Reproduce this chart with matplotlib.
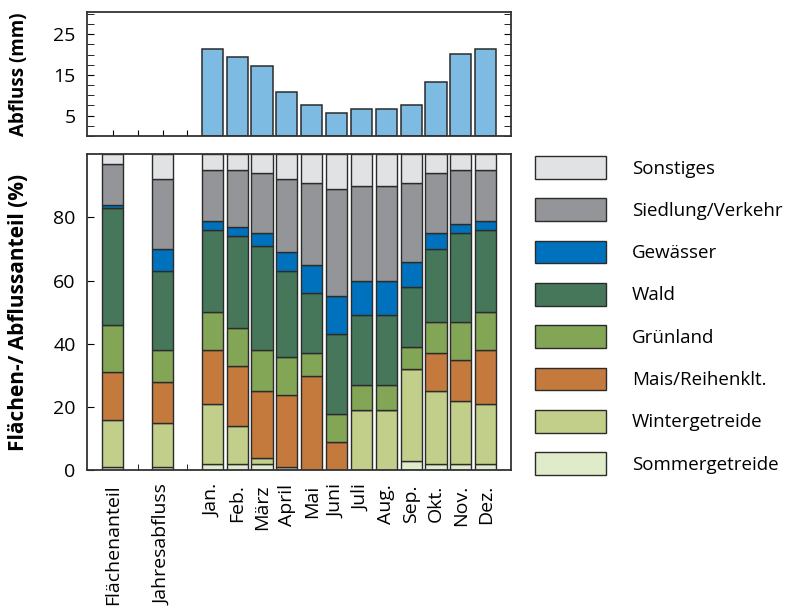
import numpy as np
import matplotlib.pyplot as plt
from matplotlib.ticker import MultipleLocator

plt.rcParams['font.family'] = ['Open Sans', 'DejaVu Sans']

# Categories along the x axis
labels = ['Flächenanteil', 'Jahresabfluss', 'Jan.', 'Feb.', 'März', 'April', 'Mai',
          'Juni', 'Juli', 'Aug.', 'Sep.', 'Okt.', 'Nov.', 'Dez.']
positions = [0, 2, 4, 5, 6, 7, 8, 9, 10, 11, 12, 13, 14, 15]

# Monthly runoff (mm), no values for the first two columns
runoff = [np.nan, np.nan, 21.3, 19.4, 17.3, 10.9, 7.5, 5.6, 6.5, 6.5, 7.7, 13.3, 20.1, 21.3]

# Shares (%) of the land-use classes, bottom to top
sommergetreide = [1, 1, 2, 2, 2, 1, 0, 0, 0, 0, 3, 2, 2, 2]
wintergetreide = [15, 14, 19, 12, 2, 0, 0, 0, 19, 19, 29, 23, 20, 19]
mais = [15, 13, 17, 19, 21, 23, 30, 9, 0, 0, 0, 12, 13, 17]
gruenland = [15, 10, 12, 12, 13, 12, 7, 9, 8, 8, 7, 10, 12, 12]
wald = [37, 25, 26, 29, 33, 27, 19, 25, 22, 22, 19, 23, 28, 26]
gewaesser = [1, 7, 3, 3, 4, 6, 9, 12, 11, 11, 8, 5, 3, 3]
siedlung = [13, 22, 16, 18, 19, 23, 26, 34, 30, 30, 25, 19, 17, 16]
sonstiges = [3, 8, 5, 5, 6, 8, 9, 11, 10, 10, 9, 6, 5, 5]

classes = ['Sommergetreide', 'Wintergetreide', 'Mais/Reihenklt.', 'Grünland',
           'Wald', 'Gewässer', 'Siedlung/Verkehr', 'Sonstiges']
shares = [sommergetreide, wintergetreide, mais, gruenland, wald, gewaesser, siedlung, sonstiges]
colors = ['#e0ebc9', '#c1cf8a', '#c4793d', '#83a656', '#46775a', '#0071bc', '#939598', '#e1e2e4']

fig = plt.figure(figsize=(7.88, 6.07), dpi=100)
ax_top = fig.add_axes([0.110, 0.776, 0.538, 0.204])
ax = fig.add_axes([0.110, 0.225, 0.538, 0.521])

edge = '#2b2b2b'
width = 0.85

# Runoff bars
ax_top.bar(positions, runoff, width=width, color='#7ebbe2', edgecolor=edge, linewidth=1.1, zorder=2)
ax_top.set_xlim(-1.05, 16)
ax_top.set_ylim(0, 30.4)
ax_top.set_yticks([5, 15, 25])
ax_top.yaxis.set_minor_locator(MultipleLocator(2.5))
ax_top.set_xticks(positions + [1, 3])
ax_top.set_xticklabels([])
ax_top.tick_params(axis='y', which='both', direction='in', left=True, right=True, length=5,
                   labelsize=14, pad=8)
ax_top.tick_params(axis='x', direction='in', length=4)
ax_top.set_ylabel('Abfluss (mm)', fontsize=13.5, fontweight='bold')
ax_top.yaxis.set_label_coords(-0.135, 0.5)

# Stacked land-use shares
bottom = np.zeros(len(positions))
handles = []
for name, vals, col in zip(classes, shares, colors):
    b = ax.bar(positions, vals, bottom=bottom, width=width, color=col,
               edgecolor=edge, linewidth=1.0, label=name, zorder=2)
    handles.append(b)
    bottom += np.array(vals)

ax.set_xlim(-1.05, 16)
ax.set_ylim(0, 100)
ax.set_yticks([0, 20, 40, 60, 80])
ax.set_xticks(positions)
ax.set_xticklabels(labels, rotation=90, fontsize=14)
ax.set_xticks([1, 3], minor=True)
ax.tick_params(axis='y', direction='in', length=5, labelsize=14, pad=8)
ax.tick_params(axis='x', which='major', length=0, pad=10)
ax.tick_params(axis='x', which='minor', direction='in', length=4)
ax.set_ylabel('Flächen-/ Abflussanteil (%)', fontsize=15, fontweight='bold')
ax.yaxis.set_label_coords(-0.135, 0.5)

for a in (ax, ax_top):
    for s in a.spines.values():
        s.set_color('#333333')
        s.set_linewidth(1.3)

fig.legend(handles[::-1], classes[::-1], loc='upper left',
           bbox_to_anchor=(535 / 788, 1 - 156 / 607), frameon=False,
           fontsize=13.5, handlelength=3.78, handleheight=1.48, labelspacing=1.05,
           handletextpad=1.39, borderpad=0, borderaxespad=0)

fig.savefig('out.png', dpi=100)
